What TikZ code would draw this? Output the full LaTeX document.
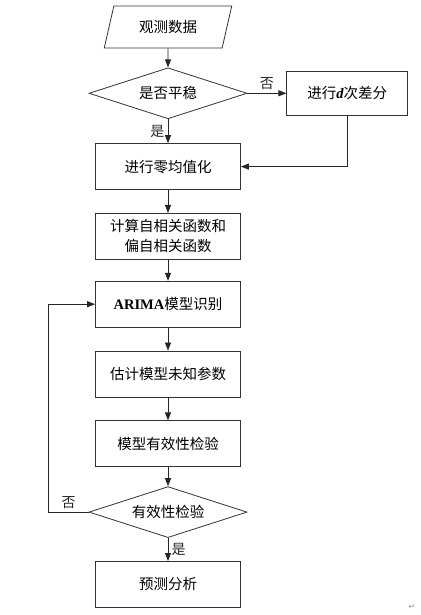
\documentclass[tikz,border=0pt]{standalone}
\usepackage{fontspec}
\setmainfont{Liberation Serif}
\newfontfamily\cjk{Noto Sans CJK SC}
\newfontfamily\symfont{DejaVu Sans}
\usepackage{tikz}
\usetikzlibrary{
    shapes.geometric,
    arrows.meta,
    positioning
}
\definecolor{flowline}{HTML}{333333}
\tikzset{
    % Process step
    stepbox/.style={
        rectangle,
        draw=flowline,
        line width=0.8pt,
        fill=white,
        minimum width=145pt,
        minimum height=46pt,
        align=center,
        inner sep=3pt
    },
    % Decision diamond
    decisionbox/.style={
        diamond,
        draw=flowline,
        line width=0.8pt,
        aspect=3.1,
        minimum width=158pt,
        minimum height=51pt,
        inner sep=0pt,
        align=center
    },
    % Input node
    iobox/.style={
        trapezium,
        trapezium left angle=69,
        trapezium right angle=111,
        trapezium stretches=true,
        draw=flowline,
        line width=0.8pt,
        minimum width=128pt,
        minimum height=42pt,
        inner sep=0pt
    },
    % Arrow style
    flowarrow/.style={
        -{Triangle[length=8pt,width=6pt]},
        line width=0.8pt,
        color=black!85
    }
}
\begin{document}
\begin{tikzpicture}[node distance=23pt, font=\cjk\fontsize{14.5}{20}\selectfont]
    \useasboundingbox (0,0) rectangle (420pt,615pt);
    \node[iobox] (data) at (168pt,588pt) {观测数据};
    \node[decisionbox, below=19pt of data] (stable) {是否平稳};
    \node[stepbox, right=39pt of stable, minimum width=121pt, minimum height=44pt] (diff) {进行{\rmfamily\bfseries\itshape d}次差分};
    \node[stepbox, below=24pt of stable] (zeromean) {进行零均值化};
    \node[stepbox, below=of zeromean] (acf) {计算自相关函数和\\偏自相关函数};
    \node[stepbox, below=21pt of acf] (ident) {{\rmfamily\bfseries ARIMA}模型识别};
    \node[stepbox, below=of ident] (estim) {估计模型未知参数};
    \node[stepbox, below=of estim] (valid) {模型有效性检验};
    \node[decisionbox, below=19pt of valid] (check) {有效性检验};
    \node[stepbox, below=of check] (pred) {预测分析};
    \node[font=\symfont\fontsize{8}{8}\selectfont, text=black!40, inner sep=0pt] (mark) at (412pt,8pt) {↵};

    \draw[flowarrow] (data) -- (stable);
    \draw[flowarrow] (stable) -- node[above, font=\cjk\fontsize{14}{16}\selectfont] {否} (diff);
    \draw[flowarrow] (stable) -- node[left, font=\cjk\fontsize{14}{16}\selectfont] {是} (zeromean);
    \draw[flowarrow] (diff) |- (zeromean);
    \draw[flowarrow] (zeromean) -- (acf);
    \draw[flowarrow] (acf) -- (ident);
    \draw[flowarrow] (ident) -- (estim);
    \draw[flowarrow] (estim) -- (valid);
    \draw[flowarrow] (valid) -- (check);
    \draw[flowarrow] (check) -- node[right, font=\cjk\fontsize{14}{16}\selectfont] {是} (pred);
    \draw[flowarrow] (check.west) -- node[above, font=\cjk\fontsize{14}{16}\selectfont] {否} ++(-40pt,0) |- (ident);
\end{tikzpicture}
\end{document}
